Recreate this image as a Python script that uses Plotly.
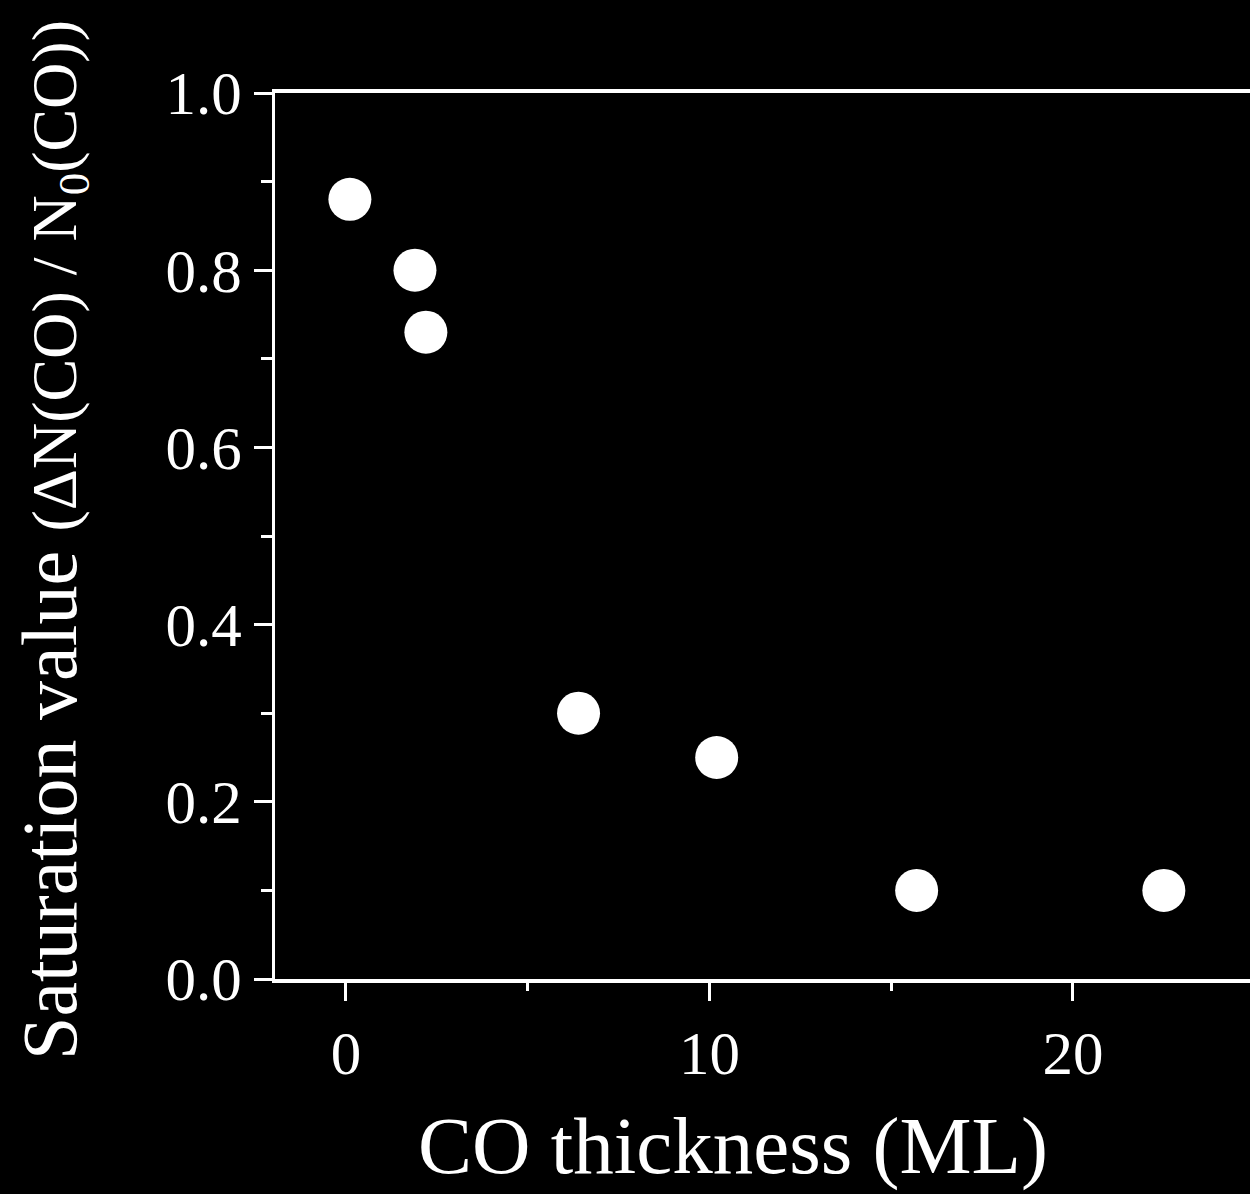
import plotly.graph_objects as go

# data
thickness_ml = [0.11, 1.9, 2.2, 6.4, 10.2, 15.7, 22.5]
saturation = [0.88, 0.80, 0.73, 0.30, 0.25, 0.10, 0.10]

x_tickvals = [0, 10, 20]
y_tickvals = [0.0, 0.2, 0.4, 0.6, 0.8, 1.0]
y_ticktext = ["0.0", "0.2", "0.4", "0.6", "0.8", "1.0"]

x_title = "CO thickness (ML)"
y_title = ("Saturation value <span style='font-size:64px'>(ΔN(CO) / N<sub>0</sub>(CO))</span>")

W, H = 1250, 1194
ML, MR, MT, MB = 275, 0, 93, 215
PW = W - ML - MR
PH = H - MT - MB

FONT = "Liberation Serif, Times New Roman, serif"

fig = go.Figure()
fig.add_trace(go.Scatter(
    x=thickness_ml, y=saturation, mode="markers",
    marker=dict(size=43, color="white", line=dict(width=0)),
    showlegend=False,
))

fig.update_layout(
    width=W, height=H,
    margin=dict(l=ML, r=MR, t=MT, b=MB, pad=0),
    paper_bgcolor="black", plot_bgcolor="black",
    font=dict(family=FONT, color="white", size=60),
    xaxis=dict(
        range=[-1.95, 24.87], showgrid=False, zeroline=False,
        showline=True, linecolor="white", linewidth=4, mirror=True,
        ticks="outside", ticklen=18, tickwidth=3, tickcolor="white",
        tickvals=x_tickvals, ticktext=[str(v) for v in x_tickvals],
        tickfont=dict(family=FONT, size=61, color="white"),
        minor=dict(dtick=5, tick0=0, ticks="outside", ticklen=8, tickwidth=3, tickcolor="white"),
    ),
    yaxis=dict(
        range=[0, 1], showgrid=False, zeroline=False,
        showline=True, linecolor="white", linewidth=3,
        ticks="outside", ticklen=18, tickwidth=3, tickcolor="white",
        tickvals=y_tickvals, ticktext=y_ticktext,
        tickfont=dict(family=FONT, size=61, color="white"),
        minor=dict(dtick=0.1, tick0=0, ticks="outside", ticklen=11, tickwidth=3, tickcolor="white"),
    ),
)

fig.add_annotation(
    text=x_title, xref="paper", yref="paper",
    x=(733 - ML) / PW, y=-(1146 - (MT + PH)) / PH,
    xanchor="center", yanchor="middle", showarrow=False,
    font=dict(family=FONT, size=81, color="white"),
)
fig.add_annotation(
    text=y_title, xref="paper", yref="paper",
    x=(52 - ML) / PW, y=0.5 - (540 - (MT + PH / 2)) / PH,
    xanchor="center", yanchor="middle", textangle=-90, showarrow=False,
    font=dict(family=FONT, size=78, color="white"),
)

fig.write_html("out.html")
